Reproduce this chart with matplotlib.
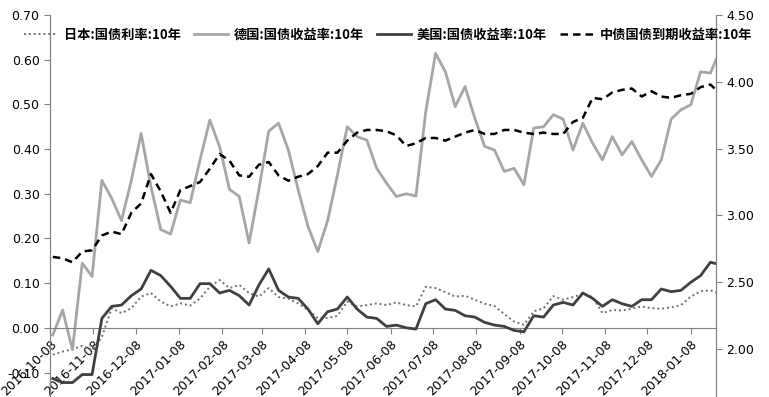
import pandas as pd
import matplotlib
matplotlib.use('Agg')
from matplotlib import pyplot as plt

plt.rcParams['font.family'] = ['DejaVu Sans']

# weekly readings, last point is the final trading day shown
dates = list(pd.date_range('2016-10-10', periods=68, freq='7D')) + [pd.Timestamp('2018-01-26')]

japan = [-0.060, -0.053, -0.048, -0.040, -0.050, -0.020, 0.044, 0.033, 0.044, 0.070,
         0.078, 0.059, 0.048, 0.055, 0.050, 0.066, 0.092, 0.107, 0.089, 0.096,
         0.078, 0.070, 0.089,
         0.069, 0.065, 0.055, 0.040, 0.022, 0.022, 0.027, 0.059, 0.048, 0.051,
         0.055, 0.051, 0.057, 0.051, 0.048, 0.092, 0.089, 0.080, 0.070, 0.072,
         0.063, 0.054, 0.049,
         0.031, 0.014, 0.007, 0.037, 0.044, 0.071, 0.063, 0.069, 0.076, 0.069,
         0.033, 0.040, 0.039, 0.043, 0.048, 0.044, 0.043, 0.046, 0.051, 0.070,
         0.082, 0.084, 0.079]

germany = [-0.016, 0.040, -0.049, 0.145, 0.115, 0.330, 0.290, 0.240, 0.330, 0.435,
           0.316, 0.220, 0.210, 0.286, 0.280, 0.376, 0.465, 0.405, 0.310, 0.294,
           0.190, 0.310, 0.440,
           0.458, 0.398, 0.309, 0.227, 0.171, 0.240, 0.342, 0.450, 0.428, 0.420,
           0.357, 0.324, 0.294, 0.300, 0.295, 0.484, 0.614, 0.573, 0.495, 0.540,
           0.469, 0.406, 0.398,
           0.350, 0.357, 0.320, 0.447, 0.450, 0.477, 0.467, 0.398, 0.458, 0.413,
           0.376, 0.428, 0.387, 0.417, 0.376, 0.339, 0.376, 0.467, 0.488, 0.499,
           0.573, 0.570, 0.600]

usa = [1.78, 1.75, 1.75, 1.81, 1.81, 2.23, 2.32, 2.33, 2.40, 2.45,
       2.59, 2.55, 2.47, 2.38, 2.38, 2.49, 2.49, 2.42, 2.44, 2.40,
       2.33, 2.48, 2.60,
       2.44, 2.39, 2.38, 2.30, 2.19, 2.28, 2.30, 2.39, 2.30, 2.24,
       2.23, 2.17, 2.18, 2.16, 2.15, 2.34, 2.37, 2.30, 2.29, 2.25,
       2.24, 2.20, 2.18,
       2.17, 2.14, 2.13, 2.25, 2.24, 2.33, 2.35, 2.33, 2.42, 2.38,
       2.32, 2.37, 2.34, 2.32, 2.37, 2.37, 2.45, 2.43, 2.44, 2.50,
       2.55, 2.65, 2.64]

china = [2.69, 2.68, 2.65, 2.73, 2.74, 2.85, 2.88, 2.86, 3.02, 3.09,
         3.31, 3.18, 3.02, 3.19, 3.22, 3.25, 3.35, 3.46, 3.41, 3.30,
         3.29, 3.38, 3.40,
         3.30, 3.26, 3.29, 3.31, 3.37, 3.47, 3.47, 3.56, 3.62, 3.64,
         3.64, 3.63, 3.60, 3.52, 3.54, 3.58, 3.58, 3.56, 3.59, 3.62,
         3.64, 3.61, 3.61,
         3.64, 3.64, 3.62, 3.61, 3.62, 3.61, 3.61, 3.70, 3.73, 3.88,
         3.87, 3.92, 3.94, 3.95, 3.89, 3.93, 3.89, 3.88, 3.90, 3.91,
         3.96, 3.98, 3.94]

tick_dates = ['2016-10-08', '2016-11-08', '2016-12-08', '2017-01-08', '2017-02-08',
              '2017-03-08', '2017-04-08', '2017-05-08', '2017-06-08', '2017-07-08',
              '2017-08-08', '2017-09-08', '2017-10-08', '2017-11-08', '2017-12-08',
              '2018-01-08']

labels = ['日本:国债利率:10年', '德国:国债收益率:10年', '美国:国债收益率:10年', '中债国债到期收益率:10年']

fig = plt.figure(figsize=(7.69, 3.97), dpi=100)
ax = fig.add_axes([50 / 769, 0.0, 666 / 769, 382 / 397])
ax2 = ax.twinx()

l1, = ax.plot(dates, japan, color='#707070', lw=1.4, ls=(0, (1, 1.5)))
l2, = ax.plot(dates, germany, color='#a6a6a6', lw=2)
l3, = ax2.plot(dates, usa, color='#404040', lw=2)
l4, = ax2.plot(dates, china, color='black', lw=1.8, ls=(0, (3, 2)))

ax.set_ylim(-0.1546, 0.70)
ax2.set_ylim(1.642, 4.50)
ax.set_yticks([-0.1, 0, 0.1, 0.2, 0.3, 0.4, 0.5, 0.6, 0.7])
ax.set_yticklabels(['-0.10', '0.00', '0.10', '0.20', '0.30', '0.40', '0.50', '0.60', '0.70'])
ax2.set_yticks([2.0, 2.5, 3.0, 3.5, 4.0, 4.5])
ax2.set_yticklabels(['2.00', '2.50', '3.00', '3.50', '4.00', '4.50'])

for a in (ax, ax2):
    for s in a.spines.values():
        s.set_color('#808080')
    a.spines['top'].set_visible(False)
    a.tick_params(colors='#808080', labelcolor='black', labelsize=9, length=4, direction='out')
ax2.spines['bottom'].set_visible(False)
ax.spines['bottom'].set_position(('data', 0))
ax.tick_params(axis='x', pad=3, labelrotation=45)

ax.set_xlim(pd.Timestamp('2016-10-08'), pd.Timestamp('2018-01-26'))
ax.set_xticks([pd.Timestamp(d) for d in tick_dates])
ax.set_xticklabels(tick_dates)
plt.setp(ax.get_xticklabels(), rotation=45, ha='right', va='top', rotation_mode='anchor')

fig.legend([l1, l2, l3, l4], labels, loc='center', ncol=4, frameon=False,
           bbox_to_anchor=(388 / 769, 1 - 35 / 397), handlelength=2.6, columnspacing=1.0,
           handletextpad=0.4, prop={'family': ['Noto Sans CJK SC', 'DejaVu Sans'],
                                    'weight': 'bold', 'size': 9.5})

fig.savefig('out.png', dpi=100)
